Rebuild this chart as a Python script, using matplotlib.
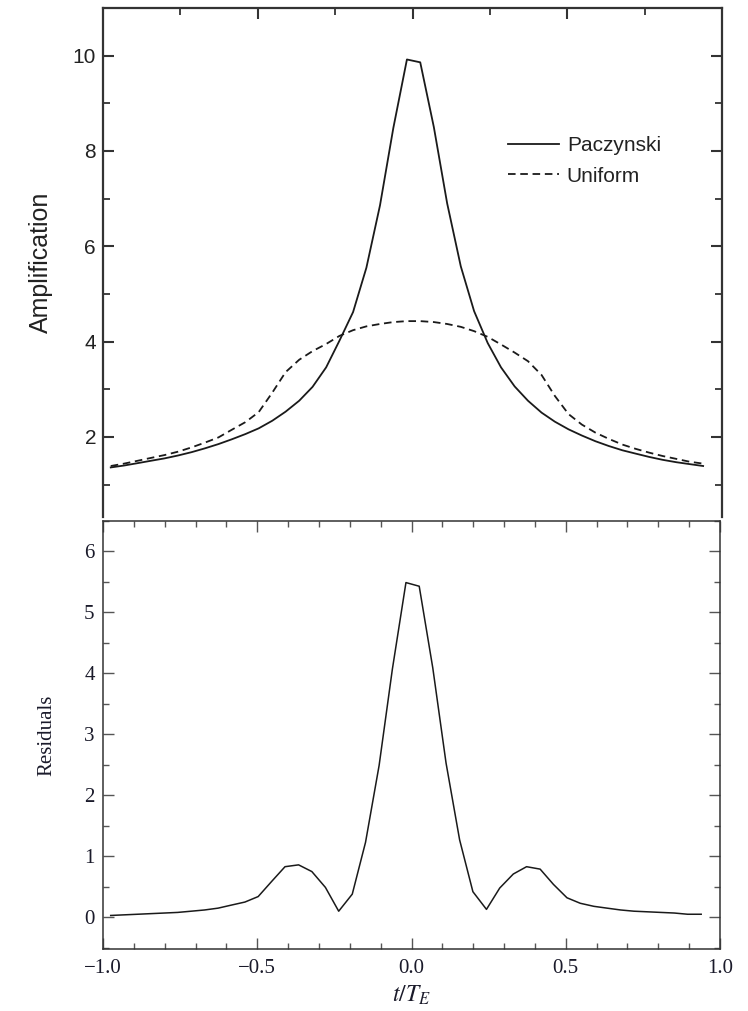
import matplotlib
matplotlib.use("Agg")
import matplotlib.pyplot as plt
from matplotlib.ticker import MultipleLocator, FixedLocator

plt.rcParams["mathtext.fontset"] = "stix"

# ---- data ----
t_over_te = [-0.975, -0.932, -0.888, -0.845, -0.801, -0.758, -0.714, -0.671, -0.627,
             -0.584, -0.540, -0.497, -0.453, -0.410, -0.366, -0.323, -0.279, -0.236,
             -0.192, -0.149, -0.105, -0.062, -0.018, 0.025, 0.069, 0.112, 0.156,
             0.199, 0.243, 0.286, 0.330, 0.373, 0.417, 0.460, 0.504, 0.547, 0.591,
             0.634, 0.678, 0.721, 0.765, 0.808, 0.852, 0.895, 0.939]

paczynski = [1.36, 1.40, 1.45, 1.50, 1.55, 1.61, 1.68, 1.76, 1.85,
             1.95, 2.06, 2.18, 2.34, 2.53, 2.76, 3.05, 3.46, 4.02,
             4.62, 5.55, 6.86, 8.48, 9.92, 9.86, 8.50, 6.90, 5.58,
             4.64, 3.97, 3.46, 3.06, 2.76, 2.51, 2.32, 2.16, 2.03, 1.91,
             1.81, 1.72, 1.65, 1.58, 1.52, 1.47, 1.43, 1.39]

uniform = [1.39, 1.44, 1.50, 1.56, 1.62, 1.69, 1.78, 1.88, 1.99,
           2.15, 2.31, 2.52, 2.93, 3.36, 3.62, 3.80, 3.95, 4.12,
           4.24, 4.32, 4.37, 4.41, 4.43, 4.43, 4.41, 4.37, 4.31,
           4.22, 4.10, 3.94, 3.77, 3.59, 3.30, 2.86, 2.48, 2.26, 2.09,
           1.96, 1.84, 1.75, 1.67, 1.60, 1.54, 1.48, 1.44]

residuals = [0.03, 0.04, 0.05, 0.06, 0.07, 0.08, 0.10, 0.12, 0.15,
             0.20, 0.25, 0.34, 0.59, 0.83, 0.86, 0.75, 0.49, 0.10,
             0.38, 1.23, 2.49, 4.07, 5.49, 5.43, 4.09, 2.53, 1.27,
             0.42, 0.13, 0.48, 0.71, 0.83, 0.79, 0.54, 0.32, 0.23, 0.18,
             0.15, 0.12, 0.10, 0.09, 0.08, 0.07, 0.05, 0.05]

legend_labels = ["Paczynski", "Uniform"]
top_yticks = [2, 4, 6, 8, 10]
bottom_yticks = [0, 1, 2, 3, 4, 5, 6]
bottom_xticks = [-1.0, -0.5, 0.0, 0.5, 1.0]
bottom_xticklabels = ["\u22121.0", "\u22120.5", "0.0", "0.5", "1.0"]

W, H = 748, 1011
fig = plt.figure(figsize=(W / 100, H / 100), dpi=100)

def box(l, t, r, b):
    return [l / W, 1 - b / H, (r - l) / W, (b - t) / H]

line_col = "#1a1a1a"
spine_col = "#333333"

# ---------------- top panel ----------------
ax1 = fig.add_axes(box(103, 8, 722, 517))
ax1.plot(t_over_te, paczynski, color=line_col, lw=1.3, label=legend_labels[0])
ax1.plot(t_over_te, uniform, color=line_col, lw=1.3, ls=(0, (4.2, 2.6)),
         label=legend_labels[1])
ax1.set_xlim(-1.0, 1.0)
ax1.set_ylim(0.32, 11.0)
ax1.spines["bottom"].set_visible(False)
for s in ["left", "right", "top"]:
    ax1.spines[s].set_linewidth(1.6)
    ax1.spines[s].set_color(spine_col)
ax1.yaxis.set_major_locator(FixedLocator(top_yticks))
ax1.yaxis.set_minor_locator(MultipleLocator(1))
ax1.xaxis.set_major_locator(FixedLocator([-0.5, 0.0, 0.5]))
ax1.xaxis.set_minor_locator(FixedLocator([-0.75, -0.25, 0.25, 0.75]))
ax1.tick_params(axis="both", which="both", direction="in", color=spine_col)
ax1.tick_params(axis="x", which="both", bottom=False, top=True, labelbottom=False)
ax1.tick_params(axis="y", which="both", left=True, right=True)
ax1.tick_params(which="major", length=8, width=1.5)
ax1.tick_params(which="minor", length=5, width=1.3)
for lab in ax1.get_yticklabels():
    lab.set_fontfamily("Liberation Sans")
    lab.set_fontsize(15)
    lab.set_color("#222222")
ax1.tick_params(axis="y", pad=5)
ax1.set_ylabel("Amplification", fontfamily="Liberation Sans", fontsize=18,
               color="#222222", labelpad=14)
leg = ax1.legend(loc="upper left", bbox_to_anchor=(0.655, 0.748), frameon=False,
                 prop={"family": "Liberation Sans", "size": 15},
                 handlelength=2.45, handletextpad=0.35, labelspacing=0.55,
                 borderpad=0, borderaxespad=0)
for txt in leg.get_texts():
    txt.set_color("#222222")

# ---------------- bottom panel ----------------
ax2 = fig.add_axes(box(103, 521, 720, 949))
ax2.plot(t_over_te, residuals, color=line_col, lw=1.1)
ax2.set_xlim(-1.0, 1.0)
ax2.set_ylim(-0.52, 6.5)
for s in ax2.spines.values():
    s.set_linewidth(1.1)
    s.set_color(spine_col)
ax2.xaxis.set_major_locator(FixedLocator(bottom_xticks))
ax2.xaxis.set_minor_locator(MultipleLocator(0.1))
ax2.yaxis.set_major_locator(FixedLocator(bottom_yticks))
ax2.yaxis.set_minor_locator(MultipleLocator(0.5))
ax2.set_xticklabels(bottom_xticklabels)
ax2.tick_params(axis="both", which="both", direction="in", color="#555555",
                top=True, right=True)
ax2.tick_params(which="major", length=8, width=1.0)
ax2.tick_params(which="minor", length=4.5, width=1.0)
for lab in ax2.get_xticklabels() + ax2.get_yticklabels():
    lab.set_fontfamily("Liberation Serif")
    lab.set_fontsize(15)
    lab.set_color("#1a1a2a")
ax2.tick_params(axis="x", pad=7)
ax2.tick_params(axis="y", pad=6)
ax2.set_ylabel("Residuals", fontfamily="Liberation Serif", fontsize=15,
               color="#1a1a2a", labelpad=20)
ax2.set_xlabel(r"$t/T_E$", fontsize=17, color="#1a1a2a", labelpad=4)

fig.savefig("out.png", dpi=100)
